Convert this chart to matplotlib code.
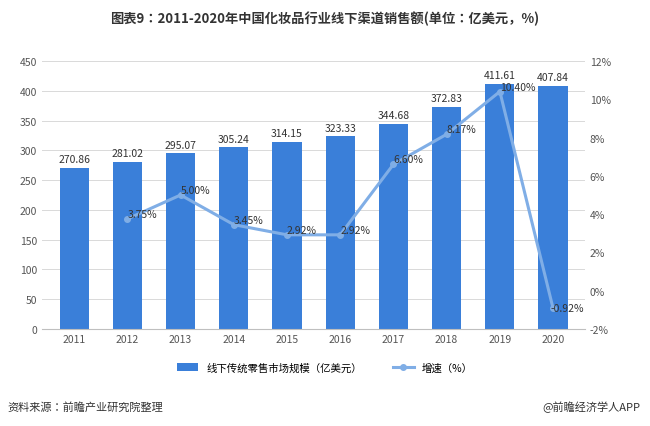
import matplotlib.pyplot as plt
import numpy as np

plt.rcParams['font.family'] = ['Noto Sans CJK SC', 'Noto Sans CJK JP', 'Noto Sans CJK TC',
                               'Noto Sans CJK KR', 'DejaVu Sans']
plt.rcParams['axes.unicode_minus'] = False

years = ['2011', '2012', '2013', '2014', '2015', '2016', '2017', '2018', '2019', '2020']
sales = [270.86, 281.02, 295.07, 305.24, 314.15, 323.33, 344.68, 372.83, 411.61, 407.84]
growth = [None, 3.75, 5.00, 3.45, 2.92, 2.92, 6.60, 8.17, 10.40, -0.92]

fig = plt.figure(figsize=(6.5, 4.27), dpi=100)
ax = fig.add_axes([0.065, 0.227, 0.835, 0.628])
x = np.arange(len(years))
ax.bar(x, sales, width=0.55, color='#3a7fd9', label='线下传统零售市场规模（亿美元）', zorder=2)
for xi, v in zip(x, sales):
    ax.text(xi, v + 6, f'{v:.2f}', ha='center', va='bottom', fontsize=7.5, color='#333333')
ax.set_ylim(0, 450)
ax.set_yticks(range(0, 451, 50))
ax.set_xlim(-0.6, 9.6)
ax.set_xticks(x)
ax.set_xticklabels(years)
ax.tick_params(labelsize=7.5, colors='#555555', length=0)
ax.grid(axis='y', color='#d9d9d9', linewidth=0.7, zorder=0)
for s in ['top', 'right', 'left']:
    ax.spines[s].set_visible(False)
ax.spines['bottom'].set_color('#bfbfbf')

ax2 = ax.twinx()
gx = [xi for xi, g in zip(x, growth) if g is not None]
gy = [g for g in growth if g is not None]
ax2.plot(gx, gy, color='#80aee6', linewidth=2.2, marker='o', markersize=4,
         label='增速（%）', zorder=3)
for xi, g in zip(gx, gy):
    ax2.text(xi - 0.05 if g < 0 else xi, g, f'{g:.2f}%', fontsize=7.5, color='#333333',
             ha='left', va='center' if g < 0 else 'bottom')
ax2.set_ylim(-2, 12)
ax2.set_yticks(range(-2, 13, 2))
ax2.set_yticklabels([f'{t}%' for t in range(-2, 13, 2)])
ax2.tick_params(labelsize=7.5, colors='#555555', length=0)
for s in ['top', 'right', 'left', 'bottom']:
    ax2.spines[s].set_visible(False)

h1, l1 = ax.get_legend_handles_labels()
h2, l2 = ax2.get_legend_handles_labels()
fig.legend(h1 + h2, l1 + l2, loc='center', bbox_to_anchor=(0.5, 0.137), ncol=2,
           frameon=False, fontsize=7.5, columnspacing=3)

fig.text(0.5, 0.955, '图表9：2011-2020年中国化妆品行业线下渠道销售额(单位：亿美元，%)',
         ha='center', va='center', fontsize=9.5, fontweight='bold', color='#333333')
fig.text(0.012, 0.045, '资料来源：前瞻产业研究院整理', fontsize=8, color='#333333', va='center')
fig.text(0.985, 0.045, '@前瞻经济学人APP', fontsize=8, color='#333333', va='center', ha='right')

fig.savefig('out.png', dpi=100)
